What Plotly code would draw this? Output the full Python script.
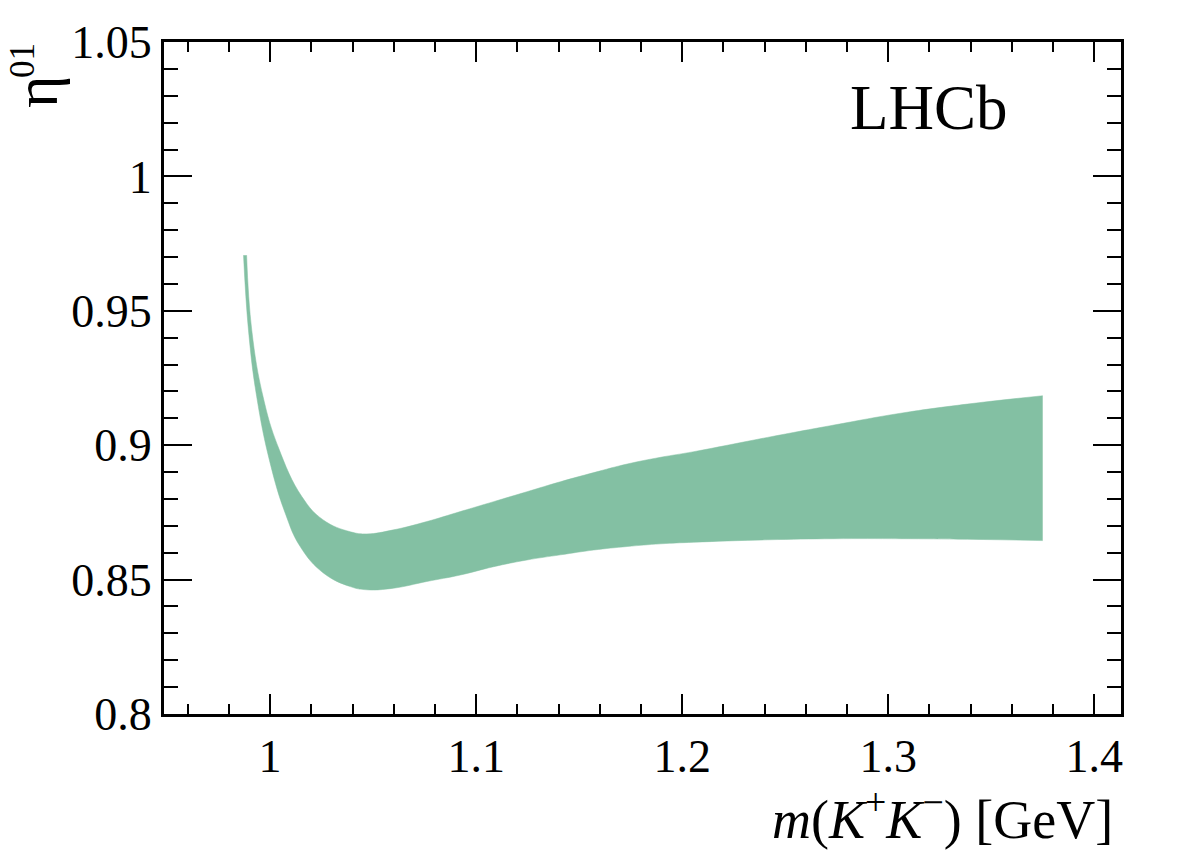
import plotly.graph_objects as go

# Upper boundary of the eta^01 band
x_upper = [0.9886, 0.9911, 0.9966, 1.0039, 1.0154, 1.0258, 1.0389, 1.0470, 1.0599,
           1.0761, 1.0923, 1.1085, 1.1247, 1.1409, 1.1571, 1.1733, 1.1895, 1.2057,
           1.2414, 1.2737, 1.3061, 1.3385, 1.3750]
y_upper = [0.9707, 0.9428, 0.9180, 0.8994, 0.8809, 0.8722, 0.8678, 0.8670, 0.8685,
           0.8716, 0.8753, 0.8790, 0.8827, 0.8864, 0.8898, 0.8930, 0.8955, 0.8976,
           0.9029, 0.9075, 0.9119, 0.9153, 0.9184]

# Lower boundary of the eta^01 band
x_lower = [0.9871, 0.9895, 0.9935, 1.0000, 1.0073, 1.0146, 1.0258, 1.0389, 1.0470,
           1.0599, 1.0761, 1.0923, 1.1085, 1.1247, 1.1409, 1.1571, 1.1733, 1.1895,
           1.2057, 1.2414, 1.2737, 1.3061, 1.3385, 1.3750]
y_lower = [0.9707, 0.9428, 0.9180, 0.8934, 0.8748, 0.8623, 0.8525, 0.8474, 0.8462,
           0.8468, 0.8493, 0.8517, 0.8548, 0.8573, 0.8592, 0.8610, 0.8623, 0.8633,
           0.8639, 0.8648, 0.8652, 0.8652, 0.8650, 0.8645]

x_tickvals = [1.0, 1.1, 1.2, 1.3, 1.4]
x_ticktext = ["1", "1.1", "1.2", "1.3", "1.4"]
y_tickvals = [0.8, 0.85, 0.9, 0.95, 1.0, 1.05]
y_ticktext = ["0.8", "0.85", "0.9", "0.95", "1", "1.05"]

FONT = "Liberation Serif, Times New Roman, serif"
GREEN = "rgb(131,192,163)"

fig = go.Figure()
fig.add_trace(go.Scatter(
    x=x_upper, y=y_upper, mode="lines",
    line=dict(color=GREEN, width=0.5, shape="spline", smoothing=1.2),
    showlegend=False, hoverinfo="skip"))
fig.add_trace(go.Scatter(
    x=x_lower, y=y_lower, mode="lines", fill="tonexty", fillcolor=GREEN,
    line=dict(color=GREEN, width=0.5, shape="spline", smoothing=1.2),
    showlegend=False, hoverinfo="skip"))

axis_common = dict(
    showgrid=False, zeroline=False, showline=True, linecolor="black", linewidth=3,
    mirror="allticks", ticks="inside", tickcolor="black", tickwidth=2,
    tickfont=dict(family=FONT, size=46, color="black"),
)

fig.update_xaxes(
    range=[0.9485, 1.413], tickmode="array", tickvals=x_tickvals, ticktext=x_ticktext,
    ticklen=20,
    minor=dict(dtick=0.02, tick0=1.0, ticks="inside", ticklen=10, tickwidth=2, tickcolor="black"),
    **axis_common)
fig.update_yaxes(
    range=[0.8, 1.05], tickmode="array", tickvals=y_tickvals, ticktext=y_ticktext,
    ticklen=28,
    minor=dict(dtick=0.01, tick0=0.8, ticks="inside", ticklen=14, tickwidth=2, tickcolor="black"),
    **axis_common)

fig.update_layout(
    width=1182, height=850,
    margin=dict(l=164, r=61, t=42, b=136),
    paper_bgcolor="white", plot_bgcolor="white",
    font=dict(family=FONT, color="black"),
    annotations=[
        dict(text="LHCb", xref="paper", yref="paper", x=0.715, y=0.902,
             xanchor="left", yanchor="middle", showarrow=False,
             font=dict(family=FONT, size=63, color="black")),
        dict(text="<i>m</i>(<i>K</i><sup>+</sup><i>K</i><sup>\u2212</sup>) [GeV]",
             xref="paper", yref="paper", x=0.9937, y=-0.097,
             xanchor="right", yanchor="top", showarrow=False,
             font=dict(family=FONT, size=54, color="black")),
        dict(text="\u03b7", xref="paper", yref="paper", x=-0.1338, y=0.9256,
             xanchor="center", yanchor="middle", textangle=-90, showarrow=False,
             font=dict(family=FONT, size=62, color="black")),
        dict(text="01", xref="paper", yref="paper", x=-0.1484, y=0.9732,
             xanchor="center", yanchor="middle", textangle=-90, showarrow=False,
             font=dict(family=FONT, size=35, color="black")),
    ],
)

fig.write_html("out.html")
